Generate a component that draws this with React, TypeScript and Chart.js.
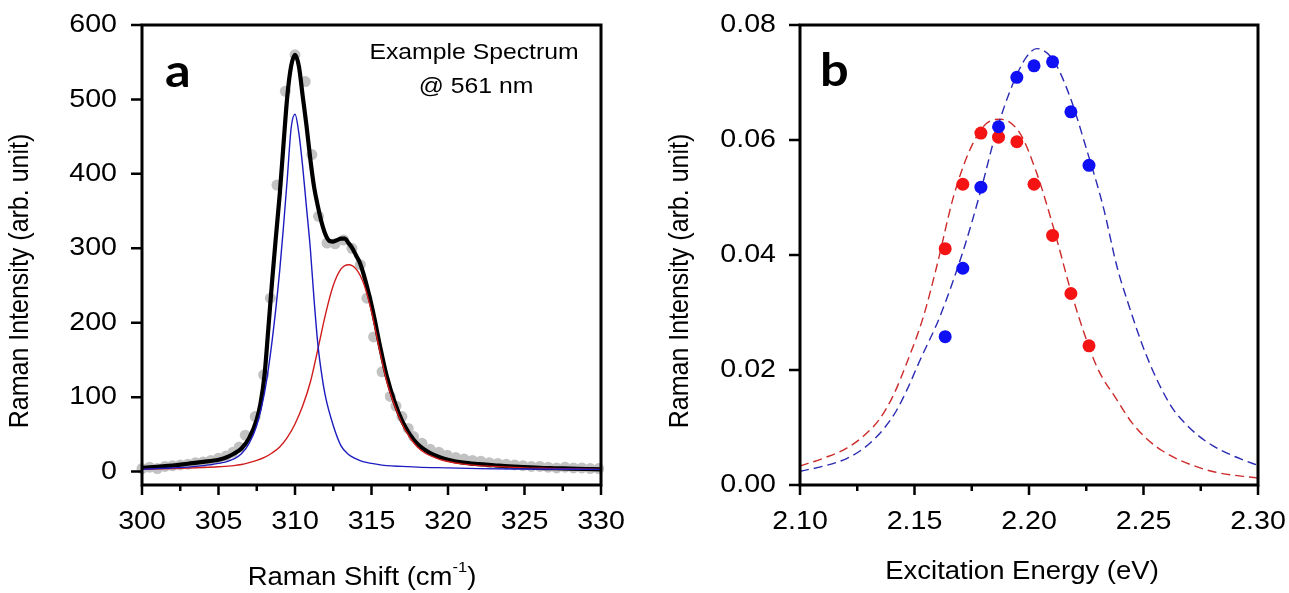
import React, { useEffect, useRef } from "react";
import { Chart, registerables } from "chart.js";

Chart.register(...registerables);

const FONT = '"Liberation Sans", Arial, Helvetica, sans-serif';
const LABEL_FONT = 'Lato, "Open Sans", sans-serif';
const SX = 1.1;

// ---------- Panel a: Raman spectrum @ 561 nm ----------
const SPEC_X = [300.0, 300.5, 301.0, 301.5, 302.0, 302.5, 303.0, 303.5, 304.0, 304.5, 305.0, 305.5, 305.95, 306.35, 306.75, 307.4, 307.95, 308.39, 308.82, 309.37, 310.0, 310.67, 311.1, 311.54, 312.09, 312.62, 313.18, 313.72, 314.27, 314.7, 315.14, 315.69, 316.23, 316.6, 316.99, 317.4, 317.75, 318.3, 318.84, 319.4, 319.95, 320.5, 321.05, 321.6, 322.15, 322.7, 323.25, 323.8, 324.35, 324.9, 325.45, 326.0, 326.55, 327.1, 327.65, 328.2, 328.75, 329.3, 329.85];
const SPEC_Y = [4, 6, 4, 7, 8, 9, 10, 12, 13, 15, 18, 21, 26, 33, 49, 74, 130, 233, 385, 511, 560, 524, 426, 343, 307, 306, 311, 300, 278, 233, 181, 134, 101, 88, 74, 58, 47, 38, 30, 26, 22, 19, 17, 15, 14, 12, 11, 10, 9, 8, 7, 7, 6, 5, 6, 5, 5, 4, 4];

const TOTAL_X = [300, 301, 302, 303, 304, 305, 305.5, 306, 306.5, 307, 307.5, 307.75, 308, 308.25, 308.5, 308.75, 309, 309.25, 309.5, 309.75, 310, 310.25, 310.5, 310.75, 311, 311.25, 311.5, 311.75, 312, 312.25, 312.5, 312.75, 313, 313.25, 313.5, 313.75, 314, 314.25, 314.5, 314.75, 315, 315.25, 315.5, 315.75, 316, 316.5, 317, 317.5, 318, 318.5, 319, 319.5, 320, 321, 322, 323, 324, 325, 326, 327, 328, 329, 330];
const TOTAL_Y = [5, 6.5, 8, 10.5, 13, 16, 19, 24, 31, 45, 70, 92, 128, 190, 255, 315, 372, 440, 505, 545, 560, 545, 505, 465, 420, 382, 356, 334, 318, 310, 309, 311, 313, 313, 307, 300, 290, 280, 264, 245, 224, 200, 174, 150, 128, 94, 68, 50, 37, 29, 23, 19, 16, 12, 10, 8.5, 7, 6, 5, 4.5, 4, 3.5, 3];

const PEAK1_X = [300, 301, 302, 303, 304, 305, 305.5, 306, 306.5, 307, 307.5, 308, 308.5, 309, 309.25, 309.5, 309.75, 310, 310.25, 310.5, 310.75, 311, 311.25, 311.5, 311.75, 312, 312.5, 313, 313.5, 314, 314.5, 315, 316, 317, 318, 320, 322, 325, 330];
const PEAK1_Y = [3, 4, 5, 6, 8, 11, 13, 17, 24, 38, 62, 105, 175, 270, 330, 395, 462, 480, 455, 410, 355, 300, 230, 170, 130, 100, 62, 35, 23, 17, 13, 11, 8, 7, 6, 5, 4, 3.5, 3];

const PEAK2_X = [300, 302, 304, 305, 306, 306.5, 307, 307.5, 308, 308.5, 309, 309.5, 310, 310.5, 311, 311.5, 312, 312.5, 313, 313.5, 314, 314.5, 315, 315.5, 316, 316.5, 317, 317.5, 318, 318.5, 319, 319.5, 320, 321, 322, 323, 324, 325, 326, 328, 330];
const PEAK2_Y = [3, 4, 5.5, 6.5, 8, 9.5, 12, 15, 19, 25, 33, 46, 64, 88, 120, 165, 212, 250, 272, 278, 272, 252, 215, 166, 121, 89, 64, 46, 33, 25, 20, 16, 13.5, 10, 8, 7, 6, 5, 4.5, 3.5, 3];

const A_X_MAJOR = [300, 305, 310, 315, 320, 325, 330];
const A_X_MINOR = [302.5, 307.5, 312.5, 317.5, 322.5, 327.5];
const A_Y_TICKS = [0, 100, 200, 300, 400, 500, 600];

// ---------- Panel b: excitation profiles ----------
const LASER_E = [2.1634, 2.1711, 2.179, 2.1867, 2.1947, 2.2022, 2.2103, 2.2183, 2.2262];
const BLUE_I = [0.0258, 0.0377, 0.0518, 0.0623, 0.0709, 0.0729, 0.0736, 0.0649, 0.0556];
const RED_I = [0.0411, 0.0523, 0.0612, 0.0605, 0.0597, 0.0523, 0.0434, 0.0333, 0.0242];

const RED_FIT_E = [2.10, 2.1105, 2.1204, 2.128, 2.135, 2.141, 2.1466, 2.1539, 2.1597, 2.167, 2.1742, 2.1815, 2.1875, 2.196, 2.2034, 2.2106, 2.2194, 2.2296, 2.2384, 2.245, 2.2515, 2.258, 2.266, 2.2806, 2.30];
const RED_FIT_I = [0.0033, 0.0047, 0.0064, 0.0086, 0.0116, 0.0158, 0.0212, 0.0293, 0.038, 0.0501, 0.0583, 0.0629, 0.0636, 0.0612, 0.0542, 0.0449, 0.0322, 0.0206, 0.0148, 0.0108, 0.0080, 0.0060, 0.0043, 0.0023, 0.0012];

const BLUE_FIT_E = [2.10, 2.1105, 2.1204, 2.1265, 2.132, 2.137, 2.1422, 2.147, 2.1524, 2.1611, 2.1714, 2.1786, 2.1859, 2.1931, 2.199, 2.2034, 2.2106, 2.2179, 2.2252, 2.2324, 2.2384, 2.2428, 2.2515, 2.2616, 2.2675, 2.2733, 2.28, 2.2878, 2.294, 2.30];
const BLUE_FIT_I = [0.0024, 0.0033, 0.0046, 0.0060, 0.0078, 0.0100, 0.0130, 0.0168, 0.0217, 0.0293, 0.0409, 0.0507, 0.0617, 0.0699, 0.0745, 0.0759, 0.0739, 0.0675, 0.0583, 0.0484, 0.0380, 0.0322, 0.0223, 0.0140, 0.0110, 0.0088, 0.0069, 0.0053, 0.0043, 0.0034];

const B_X_MAJOR = [2.10, 2.15, 2.20, 2.25, 2.30];
const B_X_MINOR = [2.125, 2.175, 2.225, 2.275];
const B_Y_TICKS = [0, 0.02, 0.04, 0.06, 0.08];

const pts = (xs: number[], ys: number[]) => xs.map((x, i) => ({ x, y: ys[i] }));

type Part = { t: string; size: number; dy?: number };
type TextItem = {
  parts: Part[];
  x: number;
  y: number;
  align: "left" | "center" | "right";
  rotate?: boolean;
  family?: string;
  bold?: boolean;
  baseline?: CanvasTextBaseline;
};

type Decor = {
  xMajor: number[];
  xMinor: number[];
  yTicks: number[];
  xDec: number;
  yDec: number;
  tickSize: number;
  xLabelY: number;
  yLabelX: number;
  texts: TextItem[];
};

function drawItem(ctx: CanvasRenderingContext2D, it: TextItem) {
  const fam = it.family || FONT;
  const weight = it.bold ? "bold " : "";
  let total = 0;
  const widths = it.parts.map((p) => {
    ctx.font = `${weight}${p.size}px ${fam}`;
    const w = ctx.measureText(p.t).width;
    total += w;
    return w;
  });
  ctx.save();
  ctx.translate(it.x, it.y);
  if (it.rotate) {
    ctx.rotate(-Math.PI / 2);
    ctx.scale(1, SX);
  } else {
    ctx.scale(SX, 1);
  }
  let start = it.align === "center" ? -total / 2 : it.align === "right" ? -total : 0;
  ctx.textAlign = "left";
  ctx.textBaseline = it.baseline || "middle";
  ctx.fillStyle = "#000";
  it.parts.forEach((p, i) => {
    ctx.font = `${weight}${p.size}px ${fam}`;
    ctx.fillText(p.t, start, p.dy || 0);
    start += widths[i];
  });
  ctx.restore();
}

function makeDecor(d: Decor) {
  return {
    id: "panelDecor",
    afterDraw(chart: any) {
      const ctx: CanvasRenderingContext2D = chart.ctx;
      const { left, right, top, bottom } = chart.chartArea;
      const xs = chart.scales.x;
      const ys = chart.scales.y;
      ctx.save();
      ctx.strokeStyle = "#000";
      ctx.lineWidth = 2.5;
      ctx.lineCap = "butt";
      ctx.beginPath();
      d.xMajor.forEach((v) => {
        const p = xs.getPixelForValue(v);
        ctx.moveTo(p, bottom);
        ctx.lineTo(p, bottom + 10);
      });
      d.xMinor.forEach((v) => {
        const p = xs.getPixelForValue(v);
        ctx.moveTo(p, bottom);
        ctx.lineTo(p, bottom + 6);
      });
      d.yTicks.forEach((v) => {
        const p = ys.getPixelForValue(v);
        ctx.moveTo(left, p);
        ctx.lineTo(left - 11, p);
      });
      ctx.stroke();
      ctx.lineWidth = 3;
      ctx.strokeRect(left, top, right - left, bottom - top);
      ctx.restore();

      d.xMajor.forEach((v) => {
        drawItem(ctx, {
          parts: [{ t: v.toFixed(d.xDec), size: d.tickSize }],
          x: xs.getPixelForValue(v),
          y: d.xLabelY,
          align: "center",
        });
      });
      d.yTicks.forEach((v) => {
        drawItem(ctx, {
          parts: [{ t: v.toFixed(d.yDec), size: d.tickSize }],
          x: d.yLabelX,
          y: ys.getPixelForValue(v),
          align: "right",
        });
      });
      d.texts.forEach((t) => drawItem(ctx, t));
    },
  };
}

function baseOptions(xMin: number, xMax: number, yMin: number, yMax: number, yWidth: number, padRight: number) {
  return {
    responsive: false,
    maintainAspectRatio: false,
    animation: false as const,
    layout: { padding: { top: 25, right: padRight, bottom: 0, left: 0 }, autoPadding: false },
    plugins: { legend: { display: false }, tooltip: { enabled: false } },
    scales: {
      x: {
        type: "linear" as const,
        min: xMin,
        max: xMax,
        grid: { display: false },
        border: { display: false },
        ticks: { display: false },
        afterFit: (s: any) => {
          s.height = 108;
        },
      },
      y: {
        type: "linear" as const,
        min: yMin,
        max: yMax,
        grid: { display: false },
        border: { display: false },
        ticks: { display: false },
        afterFit: (s: any) => {
          s.width = yWidth;
        },
      },
    },
  };
}

const Y_TITLE = "Raman Intensity (arb. unit)";
const TICK_SIZE = 26;
const TITLE_SIZE = 25;

export default function App() {
  const refA = useRef<HTMLCanvasElement>(null);
  const refB = useRef<HTMLCanvasElement>(null);

  useEffect(() => {
    const chartA = new Chart(refA.current!, {
      type: "scatter",
      data: {
        datasets: [
          {
            data: pts(PEAK1_X, PEAK1_Y),
            showLine: true,
            borderColor: "#1c1cc0",
            borderWidth: 1.4,
            pointRadius: 0,
            cubicInterpolationMode: "monotone",
            order: 0,
          } as any,
          {
            data: pts(PEAK2_X, PEAK2_Y),
            showLine: true,
            borderColor: "#d01c1c",
            borderWidth: 1.4,
            pointRadius: 0,
            cubicInterpolationMode: "monotone",
            order: 1,
          },
          {
            data: pts(TOTAL_X, TOTAL_Y),
            showLine: true,
            borderColor: "#000000",
            borderWidth: 4.2,
            pointRadius: 0,
            cubicInterpolationMode: "monotone",
            order: 2,
          },
          {
            data: pts(SPEC_X, SPEC_Y),
            showLine: false,
            pointRadius: 5.5,
            pointBackgroundColor: "#c2c2c2",
            pointBorderWidth: 0,
            borderColor: "rgba(0,0,0,0)",
            clip: false,
            order: 3,
          },
        ],
      },
      options: baseOptions(300, 330, -18, 600, 142, 44) as any,
      plugins: [
        makeDecor({
          xMajor: A_X_MAJOR,
          xMinor: A_X_MINOR,
          yTicks: A_Y_TICKS,
          xDec: 0,
          yDec: 0,
          tickSize: TICK_SIZE,
          xLabelY: 522,
          yLabelX: 117,
          texts: [
            { parts: [{ t: Y_TITLE, size: TITLE_SIZE }], x: 20, y: 281, align: "center", rotate: true },
            {
              parts: [
                { t: "Raman Shift (cm", size: TITLE_SIZE },
                { t: "-1", size: 15, dy: -10 },
                { t: ")", size: TITLE_SIZE },
              ],
              x: 362,
              y: 578,
              align: "center",
            },
            { parts: [{ t: "Example Spectrum", size: 22.5 }], x: 474, y: 53, align: "center" },
            { parts: [{ t: "@ 561 nm", size: 22.5 }], x: 476, y: 87, align: "center" },
            { parts: [{ t: "a", size: 46 }], x: 165, y: 87, align: "left", bold: true, family: LABEL_FONT, baseline: "alphabetic" },
          ],
        }),
      ],
    });

    const chartB = new Chart(refB.current!, {
      type: "scatter",
      data: {
        datasets: [
          {
            data: pts(LASER_E, BLUE_I),
            pointRadius: 6.5,
            pointBackgroundColor: "#1010f5",
            pointBorderWidth: 0,
            borderColor: "rgba(0,0,0,0)",
            order: 0,
          },
          {
            data: pts(LASER_E, RED_I),
            pointRadius: 6.5,
            pointBackgroundColor: "#f51414",
            pointBorderWidth: 0,
            borderColor: "rgba(0,0,0,0)",
            order: 1,
          },
          {
            data: pts(BLUE_FIT_E, BLUE_FIT_I),
            showLine: true,
            borderColor: "#2a2ab4",
            borderWidth: 1.4,
            borderDash: [9, 5],
            pointRadius: 0,
            cubicInterpolationMode: "monotone",
            order: 2,
          } as any,
          {
            data: pts(RED_FIT_E, RED_FIT_I),
            showLine: true,
            borderColor: "#cc2a2a",
            borderWidth: 1.4,
            borderDash: [9, 5],
            pointRadius: 0,
            cubicInterpolationMode: "monotone",
            order: 3,
          } as any,
        ],
      },
      options: baseOptions(2.1, 2.3, 0, 0.08, 155, 31) as any,
      plugins: [
        makeDecor({
          xMajor: B_X_MAJOR,
          xMinor: B_X_MINOR,
          yTicks: B_Y_TICKS,
          xDec: 2,
          yDec: 2,
          tickSize: TICK_SIZE,
          xLabelY: 522,
          yLabelX: 131,
          texts: [
            { parts: [{ t: Y_TITLE, size: TITLE_SIZE }], x: 35, y: 281, align: "center", rotate: true },
            { parts: [{ t: "Excitation Energy (eV)", size: TITLE_SIZE }], x: 377, y: 572, align: "center" },
            { parts: [{ t: "b", size: 46 }], x: 175, y: 86, align: "left", bold: true, family: LABEL_FONT, baseline: "alphabetic" },
          ],
        }),
      ],
    });

    return () => {
      chartA.destroy();
      chartB.destroy();
    };
  }, []);

  return (
    <div style={{ position: "absolute", left: 0, top: 0, width: 1289, height: 593, background: "#fff", overflow: "hidden" }}>
      <canvas ref={refA} width={645} height={593} style={{ position: "absolute", left: 0, top: 0, width: 645, height: 593 }} />
      <canvas ref={refB} width={644} height={593} style={{ position: "absolute", left: 645, top: 0, width: 644, height: 593 }} />
    </div>
  );
}
